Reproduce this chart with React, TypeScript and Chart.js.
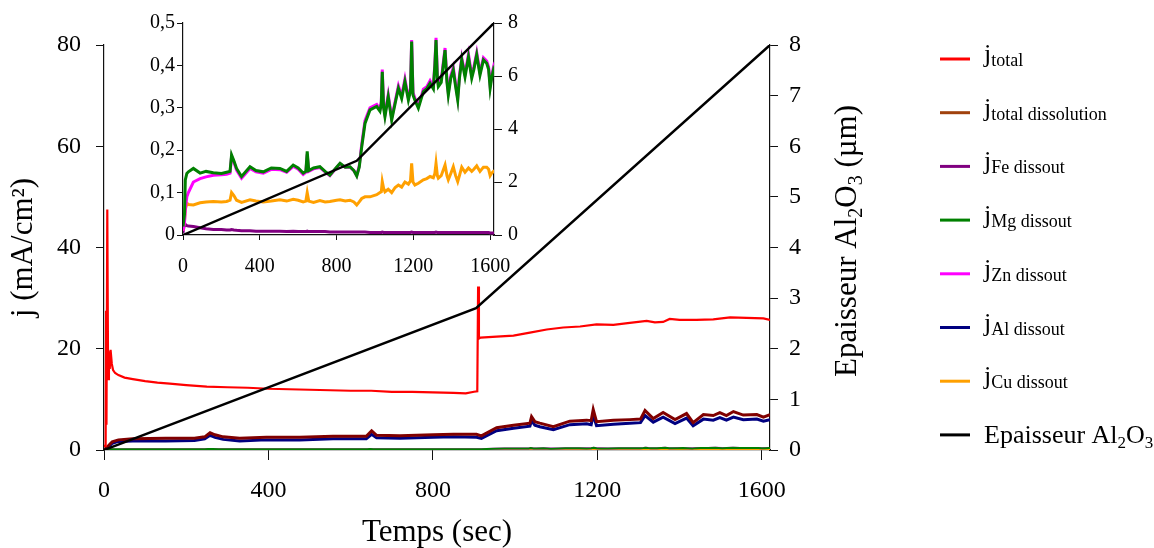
import React, { useEffect, useRef } from 'react';
import { Chart, registerables } from 'chart.js';

Chart.register(...registerables);

const SERIF = "'Liberation Serif', 'Times New Roman', serif";

// ---------- data ----------
const X_TICKS = [0, 400, 800, 1200, 1600];
const J_TICKS = [0, 20, 40, 60, 80];
const THICK_TICKS = [0, 1, 2, 3, 4, 5, 6, 7, 8];
const INSET_J_TICKS = [0, 0.1, 0.2, 0.3, 0.4, 0.5];
const INSET_THICK_TICKS = [0, 2, 4, 6, 8];

const T_TOTAL = [0, 4, 5, 6, 8, 10, 12, 14, 16, 19, 22, 27, 35, 50, 70, 100, 130, 160, 200, 250, 300, 350, 400, 450, 500, 550, 600, 650, 700, 750, 800, 850, 880, 900, 908, 910, 912, 916, 955, 996, 1036, 1077, 1117, 1158, 1198, 1239, 1279, 1320, 1340, 1360, 1376, 1400, 1441, 1482, 1523, 1563, 1604, 1620];
const J_TOTAL = [0.8, 0.8, 27.5, 5, 47.5, 14, 19.5, 16, 19.8, 17, 15.8, 15.2, 14.8, 14.3, 14.0, 13.6, 13.3, 13.1, 12.8, 12.5, 12.4, 12.3, 12.1, 12.0, 11.9, 11.8, 11.7, 11.7, 11.5, 11.5, 11.4, 11.3, 11.2, 11.5, 11.6, 32.3, 22.0, 22.2, 22.4, 22.6, 23.2, 23.8, 24.2, 24.4, 24.8, 24.7, 25.1, 25.5, 25.2, 25.3, 25.9, 25.7, 25.7, 25.8, 26.2, 26.1, 26.0, 25.7];

const T_DISS = [0, 10, 20, 35, 70, 150, 220, 245, 258, 270, 290, 330, 395, 476, 557, 638, 651, 663, 720, 801, 850, 906, 918, 955, 996, 1036, 1040, 1048, 1060, 1093, 1133, 1174, 1185, 1190, 1198, 1239, 1279, 1305, 1316, 1336, 1360, 1389, 1417, 1433, 1458, 1482, 1498, 1514, 1531, 1555, 1588, 1604, 1620];
const J_DISSOLUTION = [0, 0.8, 1.6, 2.0, 2.2, 2.3, 2.3, 2.6, 3.4, 3.0, 2.6, 2.3, 2.5, 2.5, 2.7, 2.7, 3.8, 2.9, 2.8, 3.0, 3.1, 3.1, 2.8, 4.4, 4.9, 5.3, 6.6, 5.6, 5.3, 4.6, 5.7, 5.9, 5.8, 8.0, 5.6, 5.9, 6.0, 6.1, 7.8, 6.2, 7.4, 6.0, 7.2, 5.4, 7.0, 6.8, 7.4, 6.8, 7.6, 6.9, 7.0, 6.5, 7.0];
const J_AL = [0, 0.6, 1.3, 1.7, 1.8, 1.8, 1.9, 2.2, 2.9, 2.5, 2.1, 1.8, 2.0, 2.0, 2.2, 2.2, 3.1, 2.4, 2.3, 2.5, 2.6, 2.5, 2.3, 3.8, 4.3, 4.7, 5.8, 4.9, 4.6, 4.0, 5.0, 5.2, 5.0, 6.9, 4.8, 5.1, 5.3, 5.4, 6.8, 5.5, 6.5, 5.2, 6.3, 4.8, 6.1, 5.9, 6.4, 5.9, 6.5, 6.0, 6.1, 5.7, 6.0];

const T_DISSOUT = [0, 8, 12, 20, 28, 54, 89, 120, 158, 200, 227, 245, 253, 265, 279, 305, 349, 380, 418, 460, 505, 540, 574, 600, 626, 640, 647, 655, 680, 713, 740, 765, 800, 818, 845, 870, 890, 905, 918, 931, 948, 974, 1009, 1026, 1033, 1038, 1045, 1052, 1069, 1087, 1105, 1122, 1139, 1156, 1174, 1185, 1191, 1198, 1208, 1226, 1252, 1270, 1287, 1304, 1312, 1318, 1325, 1330, 1345, 1365, 1375, 1382, 1395, 1408, 1420, 1431, 1440, 1452, 1469, 1487, 1504, 1515, 1530, 1547, 1565, 1582, 1592, 1600, 1608, 1617, 1620];
const J_MG = [0.02, 0.05, 0.13, 0.145, 0.149, 0.157, 0.146, 0.15, 0.147, 0.145, 0.148, 0.15, 0.189, 0.175, 0.157, 0.138, 0.161, 0.152, 0.149, 0.158, 0.157, 0.15, 0.165, 0.158, 0.146, 0.15, 0.197, 0.152, 0.158, 0.161, 0.15, 0.141, 0.16, 0.169, 0.16, 0.161, 0.152, 0.139, 0.16, 0.208, 0.263, 0.295, 0.303, 0.292, 0.31, 0.385, 0.3, 0.279, 0.326, 0.271, 0.31, 0.346, 0.322, 0.362, 0.318, 0.34, 0.456, 0.33, 0.318, 0.299, 0.338, 0.345, 0.358, 0.345, 0.4, 0.46, 0.37, 0.35, 0.36, 0.436, 0.36, 0.33, 0.37, 0.389, 0.35, 0.318, 0.37, 0.413, 0.373, 0.42, 0.37, 0.39, 0.425, 0.377, 0.413, 0.405, 0.39, 0.346, 0.37, 0.389, 0.385];
const J_ZN = [0.01, 0.03, 0.06, 0.09, 0.1, 0.125, 0.133, 0.137, 0.141, 0.142, 0.143, 0.146, 0.185, 0.172, 0.153, 0.134, 0.157, 0.149, 0.146, 0.155, 0.154, 0.148, 0.162, 0.155, 0.143, 0.148, 0.19, 0.15, 0.156, 0.159, 0.149, 0.14, 0.159, 0.168, 0.16, 0.16, 0.152, 0.14, 0.163, 0.214, 0.27, 0.3, 0.308, 0.297, 0.315, 0.39, 0.305, 0.284, 0.331, 0.276, 0.315, 0.352, 0.328, 0.368, 0.323, 0.346, 0.46, 0.336, 0.323, 0.304, 0.344, 0.35, 0.364, 0.35, 0.405, 0.465, 0.376, 0.356, 0.366, 0.441, 0.366, 0.336, 0.376, 0.395, 0.356, 0.323, 0.376, 0.418, 0.379, 0.426, 0.376, 0.396, 0.43, 0.383, 0.418, 0.41, 0.396, 0.352, 0.376, 0.395, 0.39];
const J_CU = [0.01, 0.035, 0.06, 0.075, 0.072, 0.071, 0.076, 0.078, 0.079, 0.078, 0.079, 0.082, 0.1, 0.093, 0.082, 0.077, 0.083, 0.08, 0.078, 0.08, 0.083, 0.08, 0.084, 0.082, 0.078, 0.08, 0.1, 0.08, 0.077, 0.081, 0.078, 0.079, 0.082, 0.083, 0.08, 0.082, 0.078, 0.071, 0.078, 0.086, 0.09, 0.09, 0.095, 0.1, 0.102, 0.126, 0.11, 0.102, 0.108, 0.1, 0.112, 0.118, 0.113, 0.125, 0.12, 0.128, 0.169, 0.125, 0.118, 0.122, 0.13, 0.133, 0.138, 0.135, 0.145, 0.169, 0.14, 0.134, 0.14, 0.165, 0.14, 0.13, 0.145, 0.161, 0.14, 0.126, 0.14, 0.16, 0.148, 0.158, 0.15, 0.155, 0.163, 0.15, 0.16, 0.16, 0.155, 0.14, 0.146, 0.15, 0.149];
const J_FE = [0.005, 0.028, 0.025, 0.022, 0.021, 0.02, 0.017, 0.015, 0.013, 0.013, 0.012, 0.012, 0.013, 0.012, 0.011, 0.01, 0.01, 0.009, 0.009, 0.009, 0.009, 0.008, 0.009, 0.008, 0.008, 0.008, 0.009, 0.008, 0.008, 0.008, 0.008, 0.007, 0.007, 0.007, 0.007, 0.007, 0.007, 0.007, 0.007, 0.007, 0.007, 0.006, 0.006, 0.006, 0.006, 0.007, 0.006, 0.006, 0.006, 0.006, 0.006, 0.006, 0.006, 0.006, 0.006, 0.006, 0.007, 0.006, 0.006, 0.006, 0.006, 0.006, 0.006, 0.006, 0.006, 0.007, 0.006, 0.006, 0.006, 0.006, 0.006, 0.006, 0.006, 0.006, 0.006, 0.006, 0.006, 0.006, 0.006, 0.006, 0.006, 0.006, 0.006, 0.006, 0.006, 0.006, 0.006, 0.005, 0.005, 0.005, 0.005];

const T_THICK = [0, 905, 1620];
const THICKNESS = [0, 2.8, 8];

const LEGEND_SUBS = ['total', 'total dissolution', 'Fe dissout', 'Mg dissout', 'Zn dissout', 'Al dissout', 'Cu dissout'];
const LEGEND_COLORS = ['#FF0000', '#A0410D', '#800080', '#008000', '#FF00FF', '#000080', '#FFA000', '#000000'];

// ---------- helpers ----------
type Part = { text: string; size: number; dy: number };

function drawParts(ctx: CanvasRenderingContext2D, parts: Part[], x: number, y: number, center: boolean) {
  let w = 0;
  for (const p of parts) {
    ctx.font = `${p.size}px ${SERIF}`;
    w += ctx.measureText(p.text).width;
  }
  let cx = center ? x - w / 2 : x;
  ctx.textAlign = 'left';
  ctx.textBaseline = 'alphabetic';
  ctx.fillStyle = '#000';
  for (const p of parts) {
    ctx.font = `${p.size}px ${SERIF}`;
    ctx.fillText(p.text, cx, y + p.dy);
    cx += ctx.measureText(p.text).width;
  }
}

function series(label: string, t: number[], v: number[], color: string, width: number, yAxisID: string, order: number) {
  return {
    label,
    data: t.map((x, i) => ({ x, y: v[i] })),
    borderColor: color,
    backgroundColor: color,
    borderWidth: width,
    pointRadius: 0,
    pointHoverRadius: 0,
    tension: 0,
    fill: false,
    yAxisID,
    order,
  };
}

function fixedTicks(values: number[]) {
  return (scale: any) => {
    scale.ticks = values.map((v) => ({ value: v }));
  };
}

function axis(opts: any) {
  const { position, min, max, ticks, tickLen, pad, font, width, height, callback } = opts;
  return {
    type: 'linear',
    position,
    min,
    max,
    afterBuildTicks: fixedTicks(ticks),
    afterFit: (scale: any) => {
      if (width !== undefined) scale.width = width;
      if (height !== undefined) scale.height = height;
    },
    grid: { display: true, drawOnChartArea: false, drawTicks: true, tickLength: tickLen, color: '#111', lineWidth: 1 },
    border: { display: true, color: '#111', width: 1.2 },
    ticks: {
      padding: pad,
      color: '#000',
      font: { family: SERIF, size: font },
      maxRotation: 0,
      autoSkip: false,
      includeBounds: false,
      callback: callback || ((v: any) => String(v)),
    },
    title: opts.title || { display: false },
  };
}

const mainOverlay = {
  id: 'mainOverlay',
  afterDraw(chart: any) {
    const ctx: CanvasRenderingContext2D = chart.ctx;
    ctx.save();
    // right axis title
    ctx.save();
    ctx.translate(856, 241);
    ctx.rotate(-Math.PI / 2);
    drawParts(ctx, [
      { text: 'Epaisseur Al', size: 31, dy: 0 },
      { text: '2', size: 20, dy: 6 },
      { text: 'O', size: 31, dy: 0 },
      { text: '3', size: 20, dy: 6 },
      { text: ' (µm)', size: 31, dy: 0 },
    ], 0, 0, true);
    ctx.restore();
    // legend
    const n = LEGEND_COLORS.length;
    for (let i = 0; i < n; i++) {
      const y = 59 + i * 53.7;
      ctx.beginPath();
      ctx.moveTo(940, y);
      ctx.lineTo(970, y);
      ctx.strokeStyle = LEGEND_COLORS[i];
      ctx.lineWidth = 3;
      ctx.stroke();
      if (i < LEGEND_SUBS.length) {
        drawParts(ctx, [
          { text: 'j', size: 26, dy: 0 },
          { text: LEGEND_SUBS[i], size: 18, dy: 4 },
        ], 984, y + 3, false);
      } else {
        drawParts(ctx, [
          { text: 'Epaisseur Al', size: 26, dy: 0 },
          { text: '2', size: 17, dy: 5 },
          { text: 'O', size: 26, dy: 0 },
          { text: '3', size: 17, dy: 5 },
        ], 984, y + 8, false);
      }
    }
    ctx.restore();
  },
};

export default function App() {
  const mainRef = useRef<HTMLCanvasElement>(null);
  const insetRef = useRef<HTMLCanvasElement>(null);

  useEffect(() => {
    const main = new Chart(mainRef.current as HTMLCanvasElement, {
      type: 'line',
      data: {
        datasets: [
          series('Epaisseur Al2O3', T_THICK, THICKNESS, '#000000', 2.5, 'y2', 0),
          series('j total', T_TOTAL, J_TOTAL, '#FF0000', 2.2, 'y', 1),
          series('j total dissolution', T_DISS, J_DISSOLUTION, '#800000', 3, 'y', 2),
          series('j Al dissout', T_DISS, J_AL, '#000080', 3, 'y', 3),
          series('j Mg dissout', T_DISSOUT, J_MG, '#008000', 2, 'y', 4),
          series('j Zn dissout', T_DISSOUT, J_ZN, '#FF00FF', 2, 'y', 5),
          series('j Cu dissout', T_DISSOUT, J_CU, '#FFA000', 2, 'y', 6),
          series('j Fe dissout', T_DISSOUT, J_FE, '#800080', 2, 'y', 7),
        ] as any,
      },
      options: {
        responsive: false,
        animation: false,
        devicePixelRatio: 1,
        layout: { padding: { left: 0, right: 274, top: 45, bottom: 0 } },
        plugins: { legend: { display: false }, tooltip: { enabled: false } },
        scales: {
          x: axis({
            position: 'bottom', min: 0, max: 1620, ticks: X_TICKS, tickLen: 10, pad: 16, font: 24, height: 98,
            title: { display: true, text: 'Temps (sec)', color: '#000', font: { family: SERIF, size: 31, lineHeight: 1 }, padding: { top: 0, bottom: 0 } },
          }),
          y: axis({
            position: 'left', min: 0, max: 80, ticks: J_TICKS, tickLen: 8, pad: 15, font: 24, width: 104,
            title: { display: true, text: 'j (mA/cm²)', color: '#000', font: { family: SERIF, size: 31, lineHeight: 1 }, padding: { top: 8, bottom: 0 } },
          }),
          y2: axis({ position: 'right', min: 0, max: 8, ticks: THICK_TICKS, tickLen: 8, pad: 11, font: 24, width: 110 }),
        } as any,
      },
      plugins: [mainOverlay],
    } as any);

    const inset = new Chart(insetRef.current as HTMLCanvasElement, {
      type: 'line',
      data: {
        datasets: [
          series('Epaisseur Al2O3', T_THICK, THICKNESS, '#000000', 2.5, 'y2', 0),
          series('j Mg dissout', T_DISSOUT, J_MG, '#008000', 3, 'y', 1),
          series('j Zn dissout', T_DISSOUT, J_ZN, '#FF00FF', 3, 'y', 2),
          series('j Cu dissout', T_DISSOUT, J_CU, '#FFA000', 3, 'y', 3),
          series('j Fe dissout', T_DISSOUT, J_FE, '#800080', 3, 'y', 4),
        ] as any,
      },
      options: {
        responsive: false,
        animation: false,
        devicePixelRatio: 1,
        layout: { padding: { left: 0, right: 6, top: 23, bottom: 0 } },
        plugins: { legend: { display: false }, tooltip: { enabled: false } },
        scales: {
          x: axis({ position: 'bottom', min: 0, max: 1620, ticks: X_TICKS, tickLen: 5, pad: 15, font: 20, height: 55 }),
          y: axis({
            position: 'left', min: 0, max: 0.5, ticks: INSET_J_TICKS, tickLen: 6, pad: 2, font: 20, width: 83,
            callback: (v: any) => (Number(v) === 0 ? '0' : Number(v).toFixed(1).replace('.', ',')),
          }),
          y2: axis({ position: 'right', min: 0, max: 8, ticks: INSET_THICK_TICKS, tickLen: 8, pad: 6, font: 20, width: 60 }),
        } as any,
      },
    } as any);

    return () => {
      main.destroy();
      inset.destroy();
    };
  }, []);

  return (
    <div style={{ position: 'absolute', left: 0, top: 0, width: 1154, height: 548, background: '#fff' }}>
      <canvas ref={mainRef} width={1154} height={548} style={{ position: 'absolute', left: 0, top: 0, width: 1154, height: 548 }} />
      <canvas ref={insetRef} width={460} height={290} style={{ position: 'absolute', left: 100, top: 0, width: 460, height: 290 }} />
    </div>
  );
}
